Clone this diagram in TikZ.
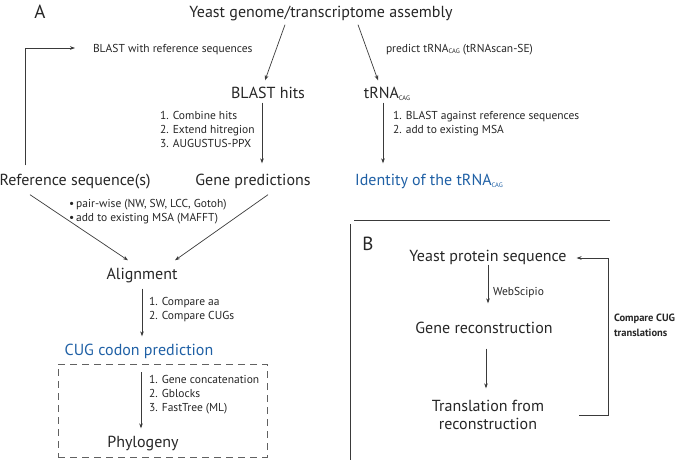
\documentclass[tikz,border=0pt]{standalone}
\usepackage{fontspec}
\setmainfont{PT Sans}
\usetikzlibrary{calc,arrows.meta}
\definecolor{ink}{HTML}{262626}
\definecolor{lineC}{HTML}{3A3A3A}
\definecolor{blueC}{HTML}{1F60A5}
\newcommand{\cag}{\raisebox{-0.25ex}{\fontsize{6.5}{7}\selectfont CAG}}
\begin{document}
\begin{tikzpicture}[x=1pt,y=-1pt,
  every node/.style={inner sep=0pt,outer sep=0pt,text depth=0pt,text=ink},
  big/.style={font=\fontsize{16}{19}\selectfont},
  small/.style={font=\fontsize{11.5}{14}\selectfont,align=left},
  panel/.style={font=\fontsize{19}{22}\selectfont},
  bluetxt/.style={big,text=blueC},
  arr/.style={draw=lineC,line width=0.7pt,-{Stealth[length=5pt,width=3.6pt]}},
  ln/.style={draw=lineC,line width=0.7pt},
  dbox/.style={draw=lineC!80,line width=0.7pt,dash pattern=on 7pt off 5pt,minimum width=209pt,minimum height=93pt}
]
\useasboundingbox (0,0) rectangle (685,460);
% panel A nodes
\node[panel] (A) at (40,12) {A};
\node[big] (yeast) at (321,12) {Yeast genome/transcriptome assembly};
\node[small,anchor=west] (blastref) at (93,48) {BLAST with reference sequences};
\node[small,anchor=west] (predict) at (386,48) {predict tRNA\cag\ (tRNAscan-SE)};
\node[big] (blasthits) at (268,93) {BLAST hits};
\node[big] (trna) at (387,93) {tRNA\cag};
\node[small,anchor=north west] (steps1) at (160,111) {1. Combine hits\\2. Extend hitregion\\3. AUGUSTUS-PPX};
\node[small,anchor=north west] (steps2) at (393,111) {1. BLAST against reference sequences\\2. add to existing MSA};
\node[big] (refseq) at (75,180) {Reference sequence(s)};
\node[big] (genepred) at (253,180) {Gene predictions};
\node[bluetxt] (identity) at (429,180) {Identity of the tRNA\cag};
\node[small,anchor=north west] (alnmeth) at (69,199) {\textbullet\,pair-wise (NW, SW, LCC, Gotoh)\\\textbullet\,add to existing MSA (MAFFT)};
\node[big] (alignment) at (142,274) {Alignment};
\node[small,anchor=north west] (cmp) at (149,297) {1. Compare aa\\2. Compare CUGs};
\node[bluetxt] (cug) at (139,350) {CUG codon prediction};
\node[dbox] (box) at (162.5,410.5) {};
\node[small,anchor=north west] (steps3) at (149,375) {1. Gene concatenation\\2. Gblocks\\3. FastTree (ML)};
\node[big] (phylo) at (143,442) {Phylogeny};
% panel B nodes
\node[panel] (B) at (368,244) {B};
\node[big] (protein) at (488,256) {Yeast protein sequence};
\node[small,anchor=west] (webscipio) at (493,291) {WebScipio};
\node[big] (recon) at (484,328) {Gene reconstruction};
\node[big,align=center,font=\fontsize{16}{18}\selectfont] (transl) at (488,415) {Translation from\\reconstruction};
\node[small,anchor=west,font=\fontsize{10.5}{15}\selectfont\bfseries] (cmpcug) at (614,325) {Compare CUG\\translations};
% panel dividers
\draw[ln] (354,220) -- (610,220);
\draw[ln] (350,224) -- (350,460);
% connectors panel A
\draw[arr] ($(yeast.south)+(-36,7)$) -- ($(blasthits.north)+(-3,-7)$);
\draw[arr] ($(yeast.south)+(37,7)$) -- ($(trna.north)+(-9,-7)$);
\draw[arr] ($(blasthits.south)+(-6,4)$) -- ($(blasthits.south |- genepred.north)+(-6,-11)$);
\draw[arr] ($(trna.south)+(-4,4)$) -- ($(trna.south |- identity.north)+(-4,-11)$);
\draw[arr] ($(refseq.south)+(-45,9)$) -- ($(alignment.north)+(-14,-8)$);
\draw[arr] ($(genepred.south)+(15,9)$) -- ($(alignment.north)+(33,-8)$);
\draw[arr] ($(refseq.north)+(-50,-9)$) |- ($(blastref.west)+(-18,0)$);
\draw[arr] ($(alignment.south)+(0,9)$) -- ($(alignment.south |- cug.north)+(0,-8)$);
\draw[arr] ($(box.north)+(-21.5,8)$) -- ($(box.north |- phylo.north)+(-21.5,-8)$);
% connectors panel B
\draw[arr] ($(protein.south)+(0,3)$) -- ($(protein.south |- recon.north)+(0,-19)$);
\draw[arr] ($(recon.south)+(2,15)$) -- ($(recon.south |- transl.north)+(2,-12)$);
\draw[arr] ($(transl.east)+(35,0)$) -| ($(protein.east)+(42,2)$) -- ($(protein.east)+(10,2)$);
\end{tikzpicture}
\end{document}
